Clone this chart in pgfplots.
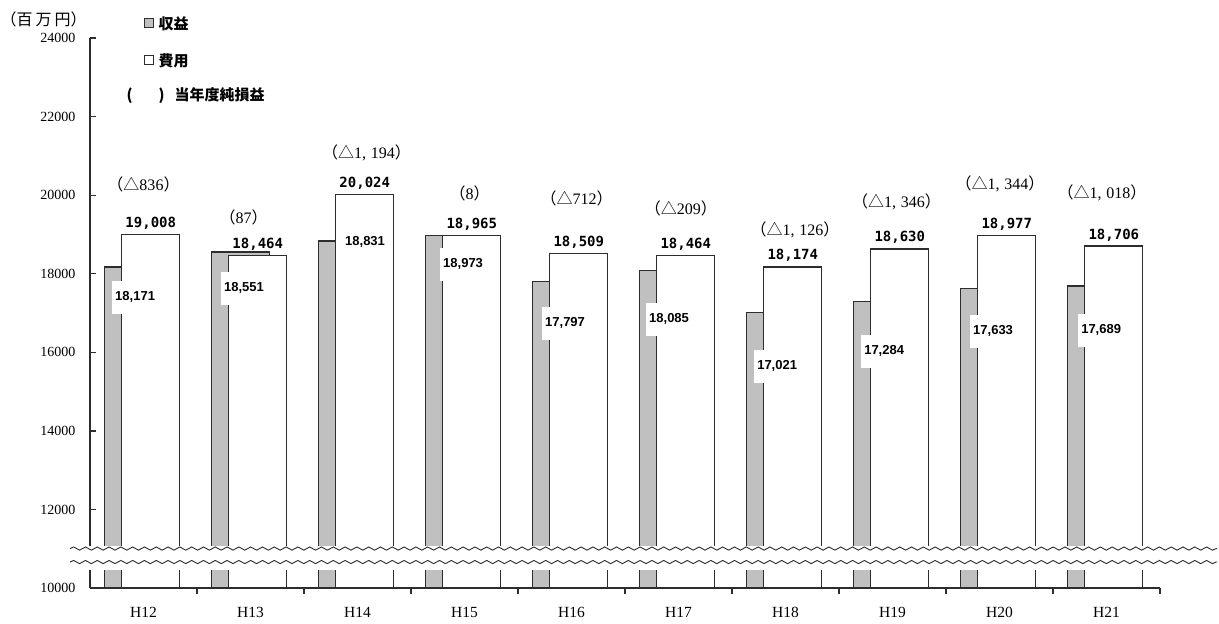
\documentclass[border=0pt]{standalone}
\usepackage{pgfplots}
\pgfplotsset{compat=1.18}
\usepackage{pgfplotstable}
\usepackage{fontspec}
\usetikzlibrary{decorations.pathmorphing}
\setmainfont{Liberation Serif}
\newfontfamily\cjk{Noto Sans CJK JP}
\newfontfamily\monob{DejaVu Sans Mono}
\newfontfamily\lsans{Liberation Sans}
\definecolor{revgray}{RGB}{192,192,192}
\definecolor{edge}{RGB}{45,45,45}

% revenue (収益) and expenses (費用), million yen
\pgfplotstableread{
x rev exp
0 18171 19008
1 18551 18464
2 18831 20024
3 18973 18965
4 17797 18509
5 18085 18464
6 17021 18174
7 17284 18630
8 17633 18977
9 17689 18706
}\finance

\newcommand{\paren}[1]{{\cjk （}#1{\cjk ）}}
\newcommand{\tri}{{\cjk △}}
\newcommand{\inlbl}[3]{\node[anchor=west, fill=white, inner xsep=3pt, inner ysep=0pt,
  minimum height=33pt, font=\lsans\bfseries\fontsize{13}{15}\selectfont]
  at (axis cs:#1,#2) {#3};}
\newcommand{\netlbl}[3]{\node[inner sep=0pt, font=\fontsize{16}{18}\selectfont]
  at (axis cs:#1,#2) {#3};}

\begin{document}
\begin{tikzpicture}
\begin{axis}[
  set layers, clip mode=individual,
  scale only axis, width=1070pt, height=550pt,
  xmin=-0.5, xmax=9.5, ymin=10000, ymax=24000,
  axis x line*=bottom, axis y line*=left,
  axis line style={edge, line width=1.2pt},
  ytick={10000,12000,...,24000},
  scaled y ticks=false,
  yticklabel style={/pgf/number format/1000 sep={},
    /pgf/number format/assume math mode=true,
    font=\fontsize{14}{16}\selectfont, xshift=-11pt},
  xtick={0.5,1.5,...,9.5}, xticklabels={},
  extra x ticks={0,...,9},
  extra x tick labels={H12,H13,H14,H15,H16,H17,H18,H19,H20,H21},
  extra x tick style={major tick length=0pt, tick style={draw=none}},
  xticklabel style={font=\fontsize{15.5}{17}\selectfont, yshift=-16pt},
  tick align=inside, major tick length=6pt,
  tick style={edge, line width=1.2pt},
  ybar, bar width=0.542,
  legend style={at={(rel axis cs:0.0500,1.0391)}, anchor=north west,
    draw=none, fill=none, inner sep=0pt, row sep=23pt, column sep=5pt,
    font=\cjk\bfseries\fontsize{15}{17}\selectfont, nodes={inner sep=0pt}},
  legend cell align=left,
]
\addplot[fill=revgray, draw=edge, line width=1.2pt, bar shift=-0.094,
  legend image code/.code={\draw[fill=revgray, draw=edge, line width=1pt]
    (0pt,-3.8pt) rectangle (9pt,5.2pt);}]
  table[x=x, y=rev] {\finance};
\addlegendentry{収益}
\addplot[fill=white, draw=edge, line width=1.2pt, bar shift=0.068,
  point meta=y,
  nodes near coords={\pgfmathprintnumber[assume math mode=true, fixed,
    precision=0, 1000 sep={,}]{\pgfplotspointmeta}},
  every node near coord/.append style={anchor=base, yshift=7pt, inner sep=0pt,
    font=\monob\bfseries\fontsize{14}{16}\selectfont, text=black},
  legend image code/.code={\draw[fill=white, draw=edge, line width=1pt]
    (0pt,-3.8pt) rectangle (9pt,5.2pt);}]
  table[x=x, y=exp] {\finance};
\addlegendentry{費用}

% revenue figures printed on the bars
\inlbl{-0.294}{17406}{18,171}
\inlbl{0.724}{17635}{18,551}
\inlbl{1.855}{18806}{18,831}
\inlbl{2.771}{18246}{18,973}
\inlbl{3.724}{16744}{17,797}
\inlbl{4.696}{16846}{18,085}
\inlbl{5.706}{15650}{17,021}
\inlbl{6.706}{16032}{17,284}
\inlbl{7.724}{16541}{17,633}
\inlbl{8.734}{16566}{17,689}

% net profit / loss of the year
\netlbl{0.000}{20282}{\paren{\tri836}}
\netlbl{0.935}{19442}{\paren{87}}
\netlbl{2.084}{21071}{\paren{\tri1,\kern0.3em194}}
\netlbl{3.047}{20053}{\paren{8}}
\netlbl{4.047}{19926}{\paren{\tri712}}
\netlbl{5.023}{19671}{\paren{\tri209}}
\netlbl{6.089}{19111}{\paren{\tri1,\kern0.3em126}}
\netlbl{7.037}{19824}{\paren{\tri1,\kern0.3em346}}
\netlbl{8.005}{20282}{\paren{\tri1,\kern0.3em344}}
\netlbl{8.958}{20053}{\paren{\tri1,\kern0.3em018}}

% unit and third legend line
\node[anchor=west, inner sep=0pt, font=\cjk\fontsize{16}{18}\selectfont]
  at (rel axis cs:-0.0838,1.0345) {（百\kern3pt 万\kern3pt 円）};
\node[anchor=west, inner sep=0pt, font=\cjk\bfseries\fontsize{15}{17}\selectfont]
  at (rel axis cs:0.0340,0.8961) {(\hspace{26pt})\hspace{10pt}当年度純損益};

% axis break
\begin{pgfonlayer}{axis foreground}
\fill[white] (rel axis cs:-0.0187,0.0327) rectangle (rel axis cs:1.0533,0.0764);
\draw[edge, line width=0.9pt, decorate, decoration={snake, amplitude=1.6pt, segment length=11.8pt}]
  (rel axis cs:-0.0187,0.0718) -- (rel axis cs:1.0533,0.0718);
\draw[edge, line width=0.9pt, decorate, decoration={snake, amplitude=1.6pt, segment length=11.8pt}]
  (rel axis cs:-0.0187,0.0473) -- (rel axis cs:1.0533,0.0473);
\end{pgfonlayer}

\coordinate (bbA) at (rel axis cs:-0.0841,-0.0636);
\coordinate (bbB) at (rel axis cs:1.0551,1.0691);
\end{axis}
\pgfresetboundingbox
\useasboundingbox (bbA) rectangle (bbB);
\end{tikzpicture}
\end{document}
